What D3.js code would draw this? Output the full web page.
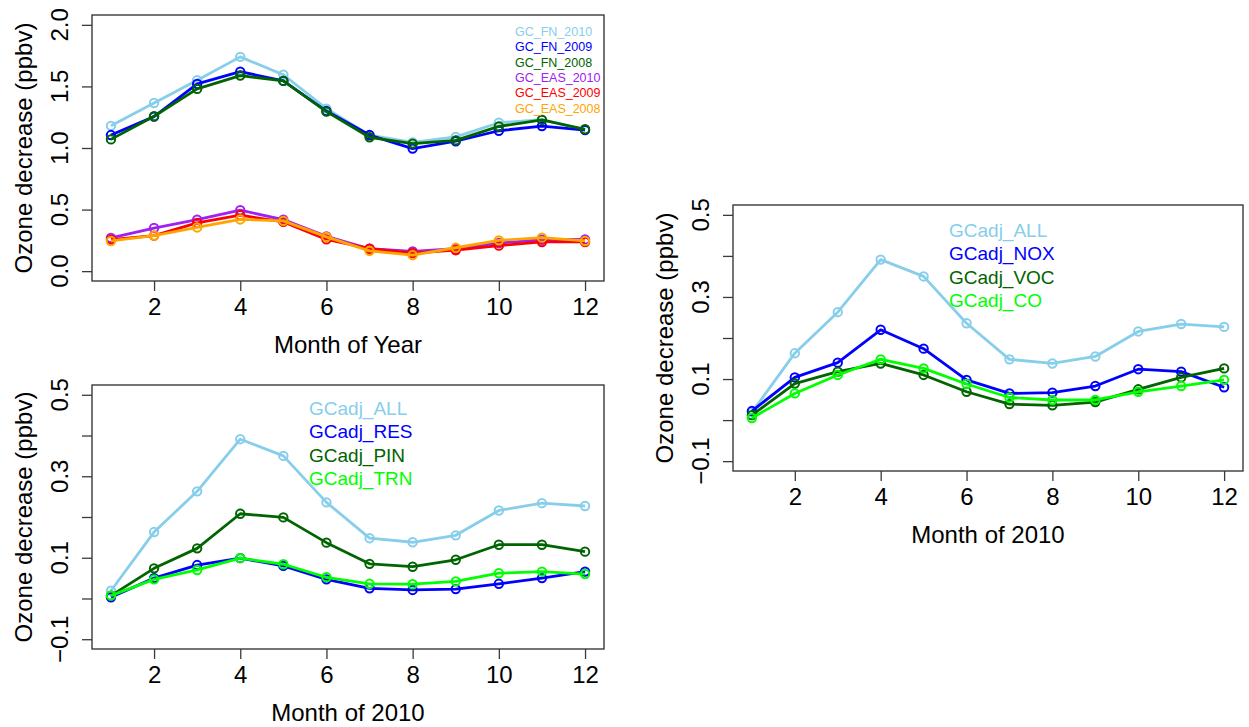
<!DOCTYPE html>
<html>
<head>
<meta charset="utf-8">
<script src="https://cdn.jsdelivr.net/npm/d3@7"></script>
<style>
  body { margin: 0; background: #fff; }
  svg text { font-family: "Liberation Sans", Arial, Helvetica, sans-serif; }
</style>
</head>
<body>
<svg id="chart" width="1249" height="727"></svg>
<script>
// months on the x axis (shared by all three panels)
const months = [1, 2, 3, 4, 5, 6, 7, 8, 9, 10, 11, 12];
const xTicks = [2, 4, 6, 8, 10, 12];

// top-left panel: forward model runs
const fnNames = ["GC_FN_2010", "GC_FN_2009", "GC_FN_2008", "GC_EAS_2010", "GC_EAS_2009", "GC_EAS_2008"];
const fnColors = ["#87ceeb", "#0000ff", "#006400", "#a020f0", "#ff0000", "#ffa500"];
const gcFn2010 = [1.18, 1.365, 1.55, 1.74, 1.595, 1.32, 1.105, 1.045, 1.09, 1.205, 1.23, 1.15];
const gcFn2009 = [1.105, 1.255, 1.52, 1.62, 1.545, 1.3, 1.105, 0.995, 1.055, 1.14, 1.178, 1.145];
const gcFn2008 = [1.07, 1.258, 1.48, 1.588, 1.545, 1.295, 1.087, 1.035, 1.062, 1.175, 1.228, 1.152];
const gcEas2010 = [0.27, 0.35, 0.418, 0.495, 0.418, 0.282, 0.182, 0.16, 0.182, 0.228, 0.255, 0.258];
const gcEas2009 = [0.256, 0.288, 0.392, 0.454, 0.4, 0.258, 0.182, 0.147, 0.17, 0.207, 0.237, 0.237];
const gcEas2008 = [0.245, 0.288, 0.355, 0.42, 0.408, 0.278, 0.165, 0.13, 0.19, 0.25, 0.272, 0.245];
const yTicksTop = [0, 0.5, 1, 1.5, 2];

// bottom-left panel: adjoint by sector
const sectorNames = ["GCadj_ALL", "GCadj_RES", "GCadj_PIN", "GCadj_TRN"];
const sectorColors = ["#87ceeb", "#0000ff", "#006400", "#00ff00"];
const adjAll = [0.019, 0.163, 0.263, 0.391, 0.35, 0.236, 0.148, 0.138, 0.155, 0.216, 0.234, 0.227];
const adjRes = [0.003, 0.05, 0.082, 0.099, 0.08, 0.047, 0.025, 0.021, 0.023, 0.036, 0.05, 0.066];
const adjPin = [0.007, 0.074, 0.123, 0.208, 0.199, 0.137, 0.085, 0.078, 0.095, 0.132, 0.132, 0.115];
const adjTrn = [0.007, 0.047, 0.07, 0.099, 0.084, 0.052, 0.036, 0.035, 0.042, 0.062, 0.066, 0.06];

// right panel: adjoint by species
const speciesNames = ["GCadj_ALL", "GCadj_NOX", "GCadj_VOC", "GCadj_CO"];
const speciesColors = ["#87ceeb", "#0000ff", "#006400", "#00ff00"];
const adjNox = [0.022, 0.104, 0.14, 0.22, 0.174, 0.098, 0.065, 0.067, 0.083, 0.124, 0.118, 0.08];
const adjVoc = [0.012, 0.089, 0.118, 0.138, 0.11, 0.069, 0.039, 0.036, 0.044, 0.075, 0.104, 0.126];
const adjCo = [0.005, 0.065, 0.11, 0.148, 0.126, 0.088, 0.055, 0.049, 0.049, 0.069, 0.083, 0.098];
const yTicksAdj = [-0.1, 0, 0.1, 0.2, 0.3, 0.4, 0.5];
const yLabelsAdj = [-0.1, 0.1, 0.3, 0.5];

const svg = d3.select("#chart");

function drawPanel(p) {
    const g = svg.append("g");
    // R-style 4% padding on both axes
    const xr = 12 - 1, yr = p.ylim[1] - p.ylim[0];
    const x = d3.scaleLinear().domain([1 - 0.04 * xr, 12 + 0.04 * xr]).range([p.left, p.right]);
    const y = d3.scaleLinear().domain([p.ylim[0] - 0.04 * yr, p.ylim[1] + 0.04 * yr]).range([p.bottom, p.top]);

    const line = d3.line().x((d, i) => x(months[i])).y(d => y(d));

    p.series.forEach((s, k) => {
        g.append("path")
            .datum(s)
            .attr("d", line)
            .attr("fill", "none")
            .attr("stroke", p.colors[k])
            .attr("stroke-width", 2.8)
            .attr("stroke-linejoin", "round");
        g.selectAll(null)
            .data(s)
            .enter().append("circle")
            .attr("cx", (d, i) => x(months[i]))
            .attr("cy", d => y(d))
            .attr("r", 4.2)
            .attr("fill", "none")
            .attr("stroke", p.colors[k])
            .attr("stroke-width", 2);
    });

    // box
    g.append("rect")
        .attr("x", p.left).attr("y", p.top)
        .attr("width", p.right - p.left).attr("height", p.bottom - p.top)
        .attr("fill", "none").attr("stroke", "#3a3a3a").attr("stroke-width", 1.4);

    // x axis
    const xa = g.append("g").attr("transform", `translate(0,${p.bottom})`)
        .call(d3.axisBottom(x).tickValues(xTicks).tickSize(10).tickFormat(d3.format("d")));
    xa.select(".domain").remove();
    xa.selectAll("line").attr("stroke", "#3a3a3a").attr("stroke-width", 1.3);
    xa.selectAll("text").attr("font-size", 24).attr("fill", "#000")
        .attr("y", 34).attr("dy", null);

    // y axis: ticks everywhere, rotated labels only where given
    const ya = g.append("g").attr("transform", `translate(${p.left},0)`)
        .call(d3.axisLeft(y).tickValues(p.yTicks).tickSize(10).tickFormat(""));
    ya.select(".domain").remove();
    ya.selectAll("line").attr("stroke", "#3a3a3a").attr("stroke-width", 1.3);
    g.selectAll(null)
        .data(p.yLabels)
        .enter().append("text")
        .attr("transform", d => `translate(${p.left - 24},${y(d)}) rotate(-90)`)
        .attr("text-anchor", "middle")
        .attr("font-size", 24)
        .text(d => d3.format(".1f")(d));

    // axis titles
    g.append("text")
        .attr("x", (p.left + p.right) / 2).attr("y", p.bottom + 72)
        .attr("text-anchor", "middle").attr("font-size", 24)
        .text(p.xTitle);
    g.append("text")
        .attr("transform", `translate(${p.left - 60},${(p.top + p.bottom) / 2}) rotate(-90)`)
        .attr("text-anchor", "middle").attr("font-size", 24)
        .text("Ozone decrease (ppbv)");

    // legend (text only, coloured)
    g.selectAll(null)
        .data(p.names)
        .enter().append("text")
        .attr("x", p.left + p.legend.dx)
        .attr("y", (d, i) => p.top + p.legend.dy + i * p.legend.step)
        .attr("font-size", p.legend.size)
        .attr("fill", (d, i) => p.colors[i])
        .text(d => d);
}

drawPanel({
    left: 92, right: 604, top: 15, bottom: 281,
    ylim: [0, 2], yTicks: yTicksTop, yLabels: yTicksTop,
    series: [gcFn2010, gcFn2009, gcFn2008, gcEas2010, gcEas2009, gcEas2008],
    names: fnNames, colors: fnColors,
    xTitle: "Month of Year",
    legend: { dx: 423, dy: 21, step: 15.3, size: 12.5 }
});

drawPanel({
    left: 92, right: 604, top: 385, bottom: 649,
    ylim: [-0.1, 0.5], yTicks: yTicksAdj, yLabels: yLabelsAdj,
    series: [adjAll, adjRes, adjPin, adjTrn],
    names: sectorNames, colors: sectorColors,
    xTitle: "Month of 2010",
    legend: { dx: 217, dy: 30, step: 23.3, size: 19 }
});

drawPanel({
    left: 733, right: 1243, top: 205, bottom: 471,
    ylim: [-0.1, 0.5], yTicks: yTicksAdj, yLabels: yLabelsAdj,
    series: [adjAll, adjNox, adjVoc, adjCo],
    names: speciesNames, colors: speciesColors,
    xTitle: "Month of 2010",
    legend: { dx: 216, dy: 32, step: 23.3, size: 19 }
});
</script>
</body>
</html>
